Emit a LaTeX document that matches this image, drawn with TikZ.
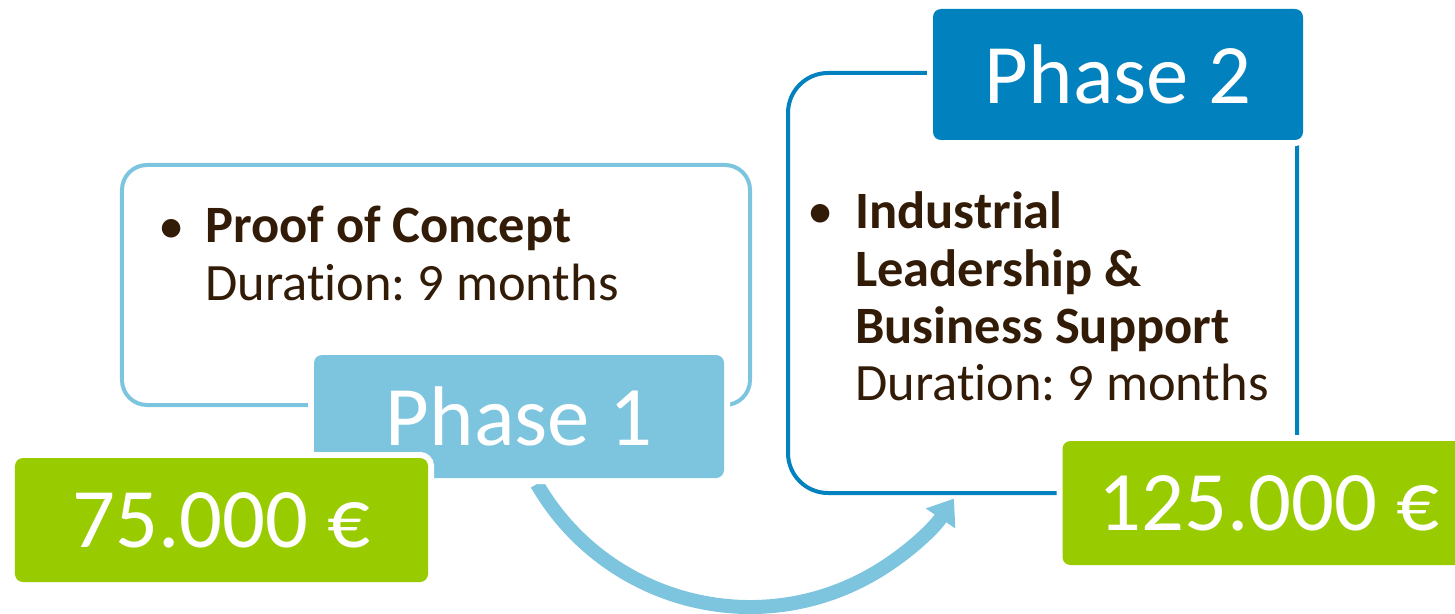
\documentclass[tikz,border=0pt]{standalone}
\usepackage{fontspec}
\setmainfont[Ligatures={NoCommon}]{Carlito}
\usetikzlibrary{arrows.meta}
\definecolor{lblue}{RGB}{125,197,222}
\definecolor{dblue}{RGB}{2,129,191}
\definecolor{lgreen}{RGB}{153,204,0}
\definecolor{txtbrown}{RGB}{50,28,8}
\frenchspacing
\begin{document}
\begin{tikzpicture}[x=1bp,y=-1bp,
  outlineone/.style={draw=lblue, line width=4bp, rounded corners=25bp, inner sep=0pt},
  outlinetwo/.style={draw=dblue, line width=4bp, rounded corners=40bp, inner sep=0pt},
  labelbox/.style={rounded corners=8bp, preaction={draw=white,line width=12bp},
    text=white, font=\fontsize{85}{100}\selectfont, inner sep=0pt},
  money/.style={labelbox, fill=lgreen, minimum width=413bp, minimum height=124bp},
  body/.style={text=txtbrown, font=\fontsize{52.7}{58}\selectfont, anchor=base west, inner sep=0pt},
  flow/.style={draw=lblue, line width=14bp, -{Triangle[length=24bp,width=34bp]}}]
\useasboundingbox (0,0) rectangle (1455,614);
\clip (0,0) rectangle (1455,614);
% arrow
\coordinate (arcC) at (750,361);
\draw[flow] ([shift={(150:246)}]arcC) arc[start angle=150,end angle=34,radius=246];
% outlines
\node[outlineone, minimum width=628bp, minimum height=240bp] (box1) at (436,285) {};
\node[outlinetwo, minimum width=509bp, minimum height=420bp] (box2) at (1042.5,283) {};
% phase labels
\node[labelbox, fill=lblue, minimum width=410bp, minimum height=123bp] (ph1) at (519,416.5) {Phase 1};
\node[labelbox, fill=dblue, minimum width=370bp, minimum height=131bp] (ph2) at (1118,74.5) {Phase 2};
% money
\node[money] (m1) at (221.5,520) {75.000 €};
\node[money] (m2) at (1269,503) {125.000 €};
% texts phase 1
\node[body] (d1) at (158,243) {•};
\node[body] (t1a) at (205,242) {\bfseries Proof of Concept};
\node[body] (t1b) at (205,300) {Duration: 9 months};
% texts phase 2
\node[body] (d2) at (807,228) {•};
\node[body] (t2a) at (855,228) {\bfseries Industrial};
\node[body] (t2b) at (855,286) {\bfseries Leadership \&};
\node[body] (t2c) at (855,343) {\bfseries Business Support};
\node[body] (t2d) at (855,400) {Duration: 9 months};
\end{tikzpicture}
\end{document}
